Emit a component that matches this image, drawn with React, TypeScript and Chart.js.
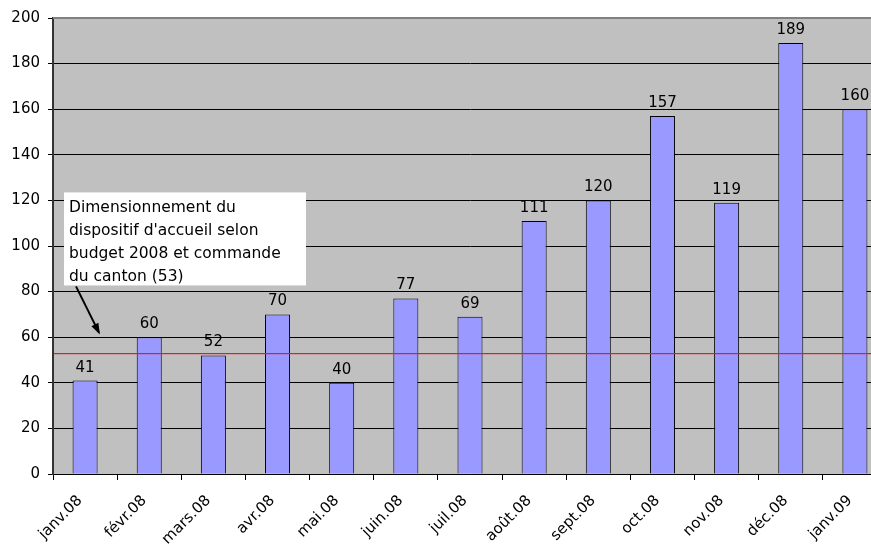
import React, { useEffect, useRef } from "react";
import { Chart, registerables } from "chart.js";

Chart.register(...registerables);

const categories = ["janv.08", "févr.08", "mars.08", "avr.08", "mai.08", "juin.08", "juil.08", "août.08", "sept.08", "oct.08", "nov.08", "déc.08", "janv.09"];
const values = [41, 60, 52, 70, 40, 77, 69, 111, 120, 157, 119, 189, 160];
const capacity = 53;
const annotationLines = ["Dimensionnement du", "dispositif d'accueil selon", "budget 2008 et commande", "du canton (53)"];
const yMax = 200;
const yStep = 20;

const FONT = '"DejaVu Sans", sans-serif';

export default function App() {
  const ref = useRef<HTMLCanvasElement | null>(null);

  useEffect(() => {
    if (!ref.current) return;
    const plugin = {
      id: "custom",
      beforeDraw(chart: any) {
        const { ctx, chartArea: a } = chart;
        ctx.save();
        ctx.fillStyle = "#C0C0C0";
        ctx.fillRect(a.left, a.top, a.right - a.left, a.bottom - a.top);
        ctx.restore();
      },
      afterDatasetsDraw(chart: any) {
        const { ctx, chartArea: a, scales } = chart;
        const y = scales.y;
        ctx.save();
        // top border
        ctx.strokeStyle = "#808080";
        ctx.lineWidth = 2;
        ctx.beginPath();
        ctx.moveTo(a.left, a.top);
        ctx.lineTo(a.right, a.top);
        ctx.stroke();
        // capacity line
        const yc = Math.round(y.getPixelForValue(capacity));
        ctx.fillStyle = "#E81C1C";
        ctx.fillRect(a.left + 1, yc, a.right - a.left - 1, 1.2);
        // data labels
        const meta = chart.getDatasetMeta(0);
        ctx.fillStyle = "#000";
        ctx.font = `15px ${FONT}`;
        ctx.textAlign = "center";
        ctx.textBaseline = "alphabetic";
        meta.data.forEach((bar: any, i: number) => {
          ctx.fillText(String(values[i]), bar.x, bar.y - 9);
        });
        // annotation box
        const bx = 64, by = y.getPixelForValue(123.5);
        const bw = 242, bh = 93;
        ctx.fillStyle = "#FFFFFF";
        ctx.fillRect(bx, by, bw, bh);
        ctx.fillStyle = "#000";
        ctx.textAlign = "left";
        ctx.font = `15.5px ${FONT}`;
        annotationLines.forEach((t, i) => {
          ctx.fillText(t, bx + 5, by + 20 + i * 23);
        });
        // arrow
        const x1 = 76, y1 = by + bh + 1;
        const x2 = 99, y2 = y.getPixelForValue(62);
        ctx.strokeStyle = "#000";
        ctx.lineWidth = 2;
        ctx.beginPath();
        ctx.moveTo(x1, y1);
        ctx.lineTo(x2, y2);
        ctx.stroke();
        const ang = Math.atan2(y2 - y1, x2 - x1);
        const hl = 10;
        ctx.beginPath();
        ctx.moveTo(x2 + 2 * Math.cos(ang), y2 + 2 * Math.sin(ang));
        ctx.lineTo(x2 - hl * Math.cos(ang - 0.4), y2 - hl * Math.sin(ang - 0.4));
        ctx.lineTo(x2 - hl * Math.cos(ang + 0.4), y2 - hl * Math.sin(ang + 0.4));
        ctx.closePath();
        ctx.fillStyle = "#000";
        ctx.fill();
        ctx.restore();
      },
    };

    const chart = new Chart(ref.current, {
      type: "bar",
      data: {
        labels: categories,
        datasets: [
          {
            data: values,
            backgroundColor: "#9999FF",
            borderColor: "#000000",
            borderWidth: 1,
            barPercentage: 0.39,
            categoryPercentage: 1,
          },
        ],
      },
      options: {
        animation: false,
        responsive: false,
        maintainAspectRatio: false,
        layout: { padding: { top: 18, right: 3, left: 0, bottom: 0 } },
        plugins: { legend: { display: false }, tooltip: { enabled: false } },
        scales: {
          x: {
            offset: true,
            grid: { offset: true, drawOnChartArea: false, drawTicks: true, tickLength: 6, color: "#000", lineWidth: 1 },
            border: { color: "#000", width: 1 },
            ticks: { color: "#000", font: { family: FONT, size: 15 }, maxRotation: 45, minRotation: 45, padding: 12, labelOffset: -5, autoSkip: false },
            afterFit: (s: any) => { s.height = 70; },
          },
          y: {
            min: 0,
            max: yMax,
            ticks: { stepSize: yStep, color: "#000", font: { family: FONT, size: 15 }, padding: 8 },
            grid: { color: "#000", lineWidth: 1, tickLength: 5, drawTicks: true },
            border: { color: "#333", width: 2 },
            afterFit: (s: any) => { s.width = 53; },
          },
        },
      },
      plugins: [plugin],
    });
    return () => chart.destroy();
  }, []);

  return (
    <div style={{ position: "fixed", left: 0, top: 0, width: 871, height: 544, overflow: "hidden", background: "#fff" }}>
      <canvas ref={ref} width={890} height={544} style={{ width: 890, height: 544, display: "block" }} />
    </div>
  );
}
